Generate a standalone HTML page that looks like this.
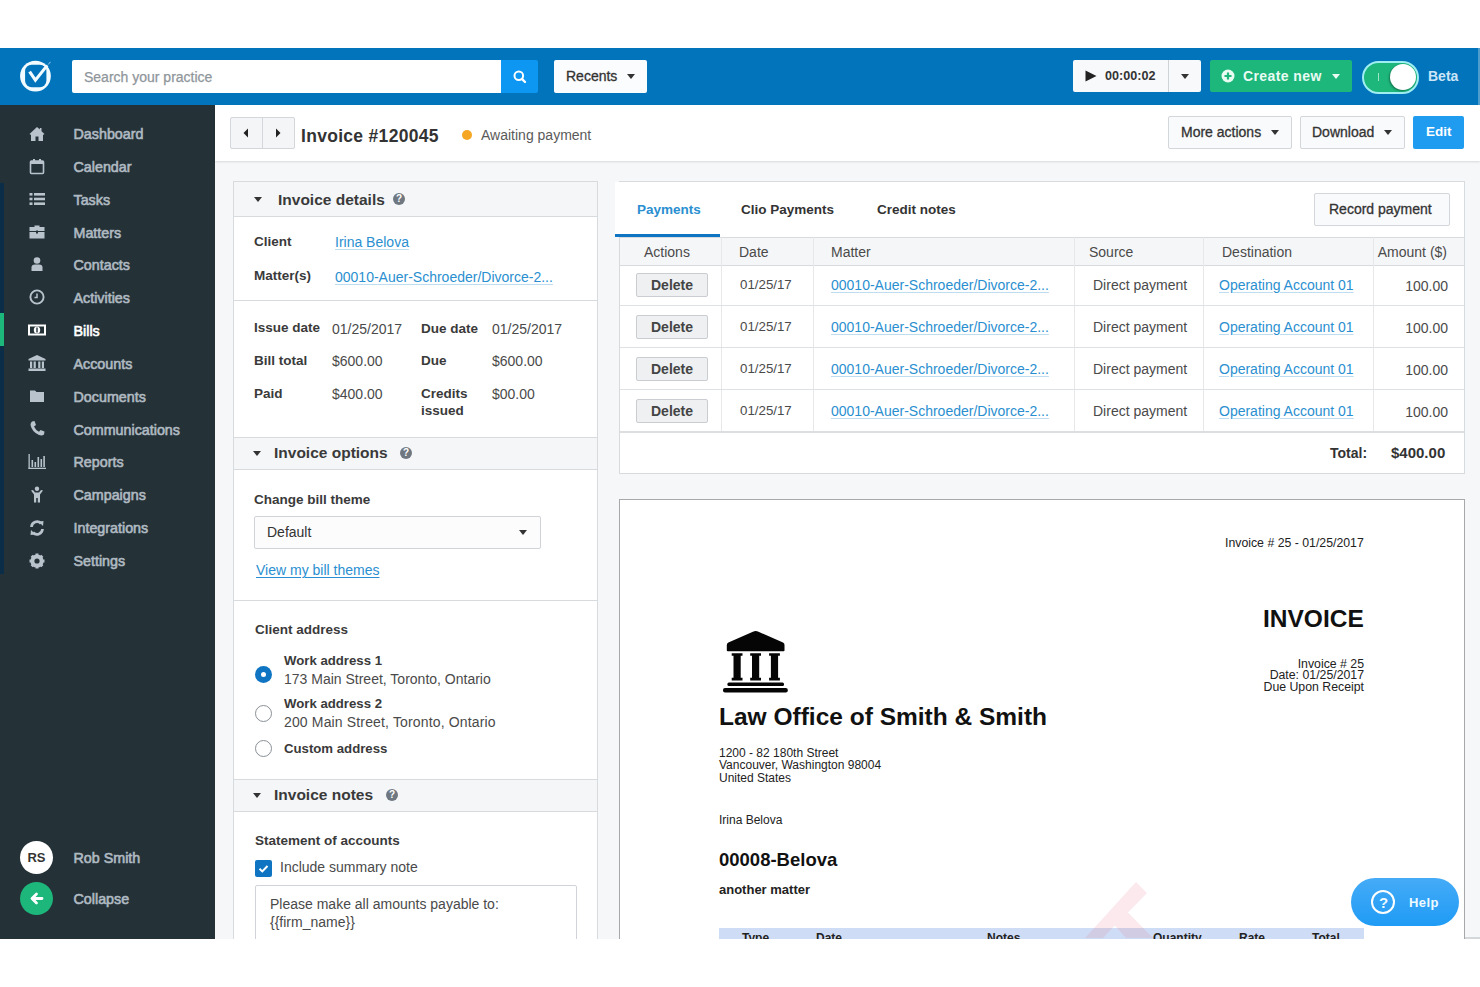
<!DOCTYPE html>
<html><head><meta charset="utf-8">
<style>
*{box-sizing:border-box;margin:0;padding:0}
html,body{width:1480px;height:987px;overflow:hidden;background:#fff;font-family:"Liberation Sans",Arial,sans-serif;color:#333}
.a{position:absolute}
.t{position:absolute;white-space:nowrap;line-height:16px}
.nav{position:absolute;left:73.5px;font-size:14.3px;color:#b0bac2;font-weight:400;white-space:nowrap;line-height:16px;-webkit-text-stroke:0.6px #b0bac2}
.si{position:absolute;left:28px}
.btn{position:absolute;background:#f9fafb;border:1px solid #d3d6da;border-radius:2px}
.caret{position:absolute;width:0;height:0;border-left:4px solid transparent;border-right:4px solid transparent;border-top:5px solid #333}
.lbl{position:absolute;font-size:13.5px;font-weight:700;color:#3a3a3a;white-space:nowrap;line-height:16px}
.val{position:absolute;font-size:14px;color:#4a4a4a;white-space:nowrap;line-height:16px}
.lnk{color:#2a8fd0;text-decoration:underline;text-decoration-color:rgba(42,143,208,.3);text-underline-offset:2px}
.line{position:absolute;background:#d8dbde}
.ph{position:absolute;left:234px;width:363px;background:#f4f6f8;border-top:1px solid #d8dbde;border-bottom:1px solid #d8dbde}
.phc{position:absolute;width:0;height:0;border-left:4.5px solid transparent;border-right:4.5px solid transparent;border-top:5px solid #333}
.q{position:absolute;width:12px;height:12px;border-radius:50%;background:#6f7880;color:#fff;font-size:10px;font-weight:700;text-align:center;line-height:12px}
.radio{position:absolute;left:255px;width:17px;height:17px;border-radius:50%;border:1.5px solid #8a9096;background:#fff}
.del{position:absolute;left:636px;width:72px;height:24px;background:#eef0f2;border:1px solid #c9cdd1;border-radius:2px;font-size:14px;font-weight:700;color:#444;text-align:center;line-height:22px}
.cell{position:absolute;font-size:14px;color:#4a4a4a;white-space:nowrap;line-height:16px}
.cell.lnk{color:#2a8fd0;text-decoration:underline;text-decoration-color:rgba(42,143,208,.3);text-underline-offset:2px}
.inv{position:absolute;white-space:nowrap;color:#111;font-family:"Liberation Sans",Arial,sans-serif}
</style></head><body>
<!-- app background -->
<div class="a" style="left:0;top:48px;width:1480px;height:891px;background:#f6f7f9"></div>

<!-- ===== HEADER ===== -->
<div class="a" style="left:0;top:48px;width:1478px;height:57px;background:#0174bb"></div>
<div class="a" style="left:1478px;top:48px;width:2px;height:57px;background:#4f9ccf"></div>
<svg class="a" style="left:20px;top:60px" width="32" height="32" viewBox="0 0 32 32">
  <circle cx="15.45" cy="16.06" r="15.4" fill="#f2fbff"/>
  <rect x="5.1" y="4.7" width="21.3" height="22.5" rx="6.5" fill="#0174bb"/>
  <path d="M9.6 11.6 L15.4 20.2 L27.2 5.4" fill="none" stroke="#f2fbff" stroke-width="3.1"/>
  <path d="M26.5 6.3 L30.2 1.6 L30.6 2.4 Z" fill="#f2fbff" opacity="0.7"/>
</svg>
<div class="a" style="left:72px;top:60px;width:429px;height:33px;background:#fff;border-radius:2px 0 0 2px"></div>
<div class="t" style="left:84px;top:68.5px;font-size:14px;color:#8f969c;-webkit-text-stroke:0.25px #8f969c">Search your practice</div>
<div class="a" style="left:501px;top:60px;width:37px;height:33px;background:#0d97f3;border-radius:0 2px 2px 0"></div>
<svg class="a" style="left:512px;top:69px" width="16" height="16" viewBox="0 0 16 16">
  <circle cx="6.8" cy="6.8" r="4.3" fill="none" stroke="#fff" stroke-width="2"/>
  <path d="M9.9 9.9 L13 13" stroke="#fff" stroke-width="2.4" stroke-linecap="round"/>
</svg>
<div class="a" style="left:554px;top:60px;width:93px;height:33px;background:#fbfcfd;border-radius:2px"></div>
<div class="t" style="left:566px;top:68px;font-size:14px;color:#333;font-weight:400;-webkit-text-stroke:0.3px #333">Recents</div>
<div class="caret" style="left:627px;top:74px"></div>

<div class="a" style="left:1073px;top:60px;width:128px;height:32px;background:#f8f9fa;border-radius:2px"></div>
<div class="a" style="left:1168px;top:60px;width:1px;height:32px;background:#cfd3d6"></div>
<svg class="a" style="left:1085px;top:70px" width="12" height="12" viewBox="0 0 12 12"><path d="M0.5 0.5 L11.5 6 L0.5 11.5 Z" fill="#222"/></svg>
<div class="t" style="left:1105px;top:68px;font-size:12.6px;font-weight:700;color:#333">00:00:02</div>
<div class="caret" style="left:1181px;top:74px"></div>

<div class="a" style="left:1210px;top:60px;width:142px;height:32px;background:#1db67b;border-radius:2px"></div>
<svg class="a" style="left:1221px;top:69px" width="14" height="14" viewBox="0 0 14 14">
  <circle cx="7" cy="7" r="6.5" fill="#e9fbf2"/>
  <path d="M7 3.5 V10.5 M3.5 7 H10.5" stroke="#1db67b" stroke-width="2.2"/>
</svg>
<div class="t" style="left:1243px;top:68px;font-size:14px;font-weight:700;color:#e9fbf2;letter-spacing:0.4px">Create new</div>
<div class="caret" style="left:1332px;top:74px;border-top-color:#e9fbf2"></div>

<div class="a" style="left:1362px;top:61px;width:57px;height:33px;border-radius:17px;background:#1db67b;border:2px solid #9eeef2"></div>
<div class="a" style="left:1378px;top:73px;width:1px;height:8px;background:#9ee8c4"></div>
<div class="a" style="left:1390px;top:64px;width:26px;height:26px;border-radius:50%;background:#fff;box-shadow:-1px 1px 2px rgba(0,0,0,.35)"></div>
<div class="t" style="left:1428px;top:68px;font-size:14px;font-weight:700;color:#cde6f7">Beta</div>

<!-- ===== SIDEBAR ===== -->
<div class="a" style="left:0;top:105px;width:215px;height:834px;background:#243238"></div>
<div class="a" style="left:0;top:183px;width:4px;height:391px;background:#0b2d48"></div>
<div class="a" style="left:0;top:313px;width:4px;height:33px;background:#1db67b"></div>

<div class="nav" style="top:126px">Dashboard</div>
<div class="nav" style="top:159px">Calendar</div>
<div class="nav" style="top:192px">Tasks</div>
<div class="nav" style="top:225px">Matters</div>
<div class="nav" style="top:257px">Contacts</div>
<div class="nav" style="top:290px">Activities</div>
<div class="nav" style="top:323px;color:#fff;-webkit-text-stroke:0.6px #fff">Bills</div>
<div class="nav" style="top:356px">Accounts</div>
<div class="nav" style="top:389px">Documents</div>
<div class="nav" style="top:422px">Communications</div>
<div class="nav" style="top:454px">Reports</div>
<div class="nav" style="top:487px">Campaigns</div>
<div class="nav" style="top:520px">Integrations</div>
<div class="nav" style="top:553px">Settings</div>

<!-- sidebar icons -->
<svg class="a" style="left:28px;top:125px" width="18" height="18" viewBox="0 0 18 18" fill="#b9c3cb">
  <path d="M9 2 L1.5 9 L3 10 L3 16 L7.5 16 L7.5 11.5 L10.5 11.5 L10.5 16 L15 16 L15 10 L16.5 9 L13.5 6.2 L13.5 3 L11.8 3 L11.8 4.6 Z"/>
</svg>
<svg class="a" style="left:28px;top:157px" width="18" height="18" viewBox="0 0 18 18">
  <rect x="2.5" y="4" width="13" height="12.5" rx="1" fill="none" stroke="#b9c3cb" stroke-width="1.6"/>
  <rect x="2.5" y="4" width="13" height="3" fill="#b9c3cb"/>
  <rect x="5" y="2" width="2" height="3" fill="#b9c3cb"/><rect x="11" y="2" width="2" height="3" fill="#b9c3cb"/>
</svg>
<svg class="a" style="left:28px;top:191px" width="18" height="16" viewBox="0 0 18 16" fill="#b9c3cb">
  <rect x="1.5" y="2" width="3" height="2.6"/><rect x="6" y="2" width="11" height="2.6"/>
  <rect x="1.5" y="6.7" width="3" height="2.6"/><rect x="6" y="6.7" width="11" height="2.6"/>
  <rect x="1.5" y="11.4" width="3" height="2.6"/><rect x="6" y="11.4" width="11" height="2.6"/>
</svg>
<svg class="a" style="left:28px;top:224px" width="18" height="16" viewBox="0 0 18 16" fill="#b9c3cb">
  <path d="M6.5 3 V1.5 H11.5 V3 H16.5 V7 H1.5 V3 Z M7.8 2.7 H10.2 V3 H7.8Z"/>
  <rect x="1.5" y="8" width="15" height="6.5"/><rect x="8" y="6.5" width="2" height="3" fill="#243238"/>
</svg>
<svg class="a" style="left:28px;top:256px" width="18" height="16" viewBox="0 0 18 16" fill="#b9c3cb">
  <circle cx="9" cy="4.5" r="3.3"/><path d="M3.5 15 V11.5 Q3.5 8.5 7 8.5 H11 Q14.5 8.5 14.5 11.5 V15 Z"/>
</svg>
<svg class="a" style="left:28px;top:289px" width="18" height="16" viewBox="0 0 18 16">
  <circle cx="9" cy="8" r="6.6" fill="none" stroke="#b9c3cb" stroke-width="1.9"/>
  <path d="M9 4.5 V8.5 H6.5" fill="none" stroke="#b9c3cb" stroke-width="1.5"/>
</svg>
<svg class="a" style="left:27px;top:322px" width="20" height="16" viewBox="0 0 20 16">
  <rect x="1" y="2.5" width="18" height="11" fill="#fff"/>
  <rect x="3" y="4.5" width="14" height="7" fill="#243238"/>
  <ellipse cx="10" cy="8" rx="3.2" ry="3.6" fill="#fff"/>
  <rect x="9.3" y="5.5" width="1.4" height="5" fill="#243238"/>
</svg>
<svg class="a" style="left:27px;top:354px" width="20" height="18" viewBox="0 0 20 18" fill="#b9c3cb">
  <path d="M10 1 L18.5 5 V6.5 H1.5 V5 Z"/>
  <rect x="3" y="7.5" width="2.2" height="6.5"/><rect x="6.6" y="7.5" width="2.2" height="6.5"/><rect x="11.2" y="7.5" width="2.2" height="6.5"/><rect x="14.8" y="7.5" width="2.2" height="6.5"/>
  <rect x="1.5" y="14.5" width="17" height="2.5"/>
</svg>
<svg class="a" style="left:28px;top:388px" width="18" height="16" viewBox="0 0 18 16" fill="#b9c3cb">
  <path d="M2 2.5 H7 L8.5 4 H16 V14 H2 Z"/>
</svg>
<svg class="a" style="left:28px;top:420px" width="18" height="17" viewBox="0 0 18 17" fill="#b9c3cb">
  <path d="M4 1.5 L6.5 1 L8 5 L6 6.5 Q7.5 10 11 11.8 L12.5 10 L16.5 11.5 L16 14.5 Q14 16 11 15 Q4 12 2.5 5 Q2.5 2.5 4 1.5 Z"/>
</svg>
<svg class="a" style="left:27px;top:453px" width="20" height="17" viewBox="0 0 20 17" fill="#b9c3cb">
  <rect x="1.5" y="1" width="1.3" height="15"/><rect x="1.5" y="14.7" width="17.5" height="1.3"/>
  <rect x="4.5" y="7" width="1.6" height="7"/><rect x="7.5" y="9" width="1.6" height="5"/><rect x="10.5" y="4" width="1.6" height="10"/><rect x="13.5" y="6" width="1.6" height="8"/><rect x="16.3" y="3" width="1.6" height="11"/>
</svg>
<svg class="a" style="left:28px;top:486px" width="18" height="18" viewBox="0 0 18 18" fill="#b9c3cb">
  <circle cx="9" cy="2.8" r="2.2"/><path d="M3 4.5 L5 4 L7 6.5 H11 L13 4 L15 4.5 L12 8.5 V16.5 H9.8 V12 H8.2 V16.5 H6 V8.5 Z"/>
</svg>
<svg class="a" style="left:28px;top:519px" width="18" height="18" viewBox="0 0 18 18">
  <path d="M3.5 8 A5.5 5.5 0 0 1 13 4.5" fill="none" stroke="#b9c3cb" stroke-width="2.7"/>
  <path d="M14.5 10 A5.5 5.5 0 0 1 5 13.5" fill="none" stroke="#b9c3cb" stroke-width="2.7"/>
  <path d="M10.5 2.5 L15.5 2 L15 7 Z" fill="#b9c3cb"/><path d="M7.5 15.5 L2.5 16 L3 11 Z" fill="#b9c3cb"/>
</svg>
<svg class="a" style="left:28px;top:552px" width="18" height="18" viewBox="0 0 18 18">
  <circle cx="9" cy="9" r="4.6" fill="none" stroke="#b9c3cb" stroke-width="4"/>
  <g stroke="#b9c3cb" stroke-width="3"><path d="M9 1.5 V4"/><path d="M9 14 V16.5"/><path d="M1.5 9 H4"/><path d="M14 9 H16.5"/><path d="M3.7 3.7 L5.5 5.5"/><path d="M12.5 12.5 L14.3 14.3"/><path d="M3.7 14.3 L5.5 12.5"/><path d="M12.5 5.5 L14.3 3.7"/></g>
</svg>

<div class="a" style="left:20px;top:841px;width:33px;height:33px;border-radius:50%;background:#fff"></div>
<div class="t" style="left:20px;top:850px;width:33px;text-align:center;font-size:13px;font-weight:700;color:#333">RS</div>
<div class="nav" style="top:850px">Rob Smith</div>
<div class="a" style="left:20px;top:882px;width:33px;height:33px;border-radius:50%;background:#1db67b"></div>
<svg class="a" style="left:28px;top:890px" width="17" height="17" viewBox="0 0 17 17">
  <path d="M14 8.5 H4.5 M8.5 4 L4 8.5 L8.5 13" fill="none" stroke="#fff" stroke-width="2.8" stroke-linecap="round" stroke-linejoin="round"/>
</svg>
<div class="nav" style="top:891px">Collapse</div>

<!-- ===== TITLE BAR ===== -->
<div class="a" style="left:215px;top:105px;width:1265px;height:56px;background:#fff;box-shadow:0 1px 2px rgba(0,0,0,.12)"></div>
<div class="btn" style="left:230px;top:117px;width:65px;height:32px;background:#f4f5f6"></div>
<div class="a" style="left:262px;top:117px;width:1px;height:32px;background:#d3d6da"></div>
<svg class="a" style="left:242px;top:128px" width="8" height="10" viewBox="0 0 8 10"><path d="M6 0.5 L1.5 5 L6 9.5Z" fill="#222"/></svg>
<svg class="a" style="left:274px;top:128px" width="8" height="10" viewBox="0 0 8 10"><path d="M2 0.5 L6.5 5 L2 9.5Z" fill="#222"/></svg>
<div class="t" style="left:301px;top:127px;font-size:17.5px;font-weight:700;color:#333;letter-spacing:0.3px;line-height:18px">Invoice #120045</div>
<div class="a" style="left:461.5px;top:130.3px;width:10px;height:10px;border-radius:50%;background:#f5a623"></div>
<div class="t" style="left:481px;top:127px;font-size:14px;color:#5a5a5a">Awaiting payment</div>

<div class="btn" style="left:1168px;top:116px;width:124px;height:33px"></div>
<div class="t" style="left:1181px;top:124px;font-size:14px;color:#333;-webkit-text-stroke:0.3px #333">More actions</div>
<div class="caret" style="left:1271px;top:130px"></div>
<div class="btn" style="left:1300px;top:116px;width:105px;height:33px"></div>
<div class="t" style="left:1312px;top:124px;font-size:14px;color:#333;-webkit-text-stroke:0.3px #333">Download</div>
<div class="caret" style="left:1384px;top:130px"></div>
<div class="a" style="left:1413px;top:116px;width:51px;height:33px;background:#1f9cf0;border-radius:2px"></div>
<div class="t" style="left:1426px;top:124px;font-size:13.5px;font-weight:700;color:#fff">Edit</div>


<!-- ===== LEFT PANEL ===== -->
<div class="a" style="left:233px;top:181px;width:365px;height:770px;background:#fff;border:1px solid #d8dbde"></div>
<!-- invoice details header -->
<div class="ph" style="top:182px;height:35px;border-top:none"></div>
<div class="phc" style="left:254px;top:197px"></div>
<div class="t" style="left:278px;top:191px;font-size:15.5px;font-weight:700;color:#3a3a3a;line-height:17px">Invoice details</div>
<div class="q" style="left:393px;top:193px">?</div>
<div class="lbl" style="left:254px;top:234px">Client</div>
<div class="val lnk" style="left:335px;top:234px">Irina Belova</div>
<div class="lbl" style="left:254px;top:268px">Matter(s)</div>
<div class="val lnk" style="left:335px;top:269px">00010-Auer-Schroeder/Divorce-2...</div>
<div class="line" style="left:234px;top:300px;width:363px;height:1px"></div>
<div class="lbl" style="left:254px;top:320px">Issue date</div>
<div class="val" style="left:332px;top:321px">01/25/2017</div>
<div class="lbl" style="left:421px;top:321px">Due date</div>
<div class="val" style="left:492px;top:321px">01/25/2017</div>
<div class="lbl" style="left:254px;top:353px">Bill total</div>
<div class="val" style="left:332px;top:353px">$600.00</div>
<div class="lbl" style="left:421px;top:353px">Due</div>
<div class="val" style="left:492px;top:353px">$600.00</div>
<div class="lbl" style="left:254px;top:386px">Paid</div>
<div class="val" style="left:332px;top:386px">$400.00</div>
<div class="lbl" style="left:421px;top:386px">Credits</div>
<div class="lbl" style="left:421px;top:403px">issued</div>
<div class="val" style="left:492px;top:386px">$00.00</div>

<!-- invoice options -->
<div class="ph" style="top:437px;height:33px"></div>
<div class="phc" style="left:253px;top:451px"></div>
<div class="t" style="left:274px;top:444px;font-size:15.5px;font-weight:700;color:#3a3a3a;line-height:17px">Invoice options</div>
<div class="q" style="left:400px;top:447px">?</div>
<div class="lbl" style="left:254px;top:492px">Change bill theme</div>
<div class="a" style="left:254px;top:516px;width:287px;height:33px;background:#fcfcfd;border:1px solid #d0d4d8;border-radius:2px"></div>
<div class="val" style="left:267px;top:524px;color:#333">Default</div>
<div class="caret" style="left:519px;top:530px"></div>
<div class="val lnk" style="left:256px;top:562px;text-decoration:underline;text-decoration-thickness:1px;text-underline-offset:2px">View my bill themes</div>
<div class="line" style="left:234px;top:600px;width:363px;height:1px"></div>
<div class="lbl" style="left:255px;top:622px">Client address</div>
<div class="radio" style="top:666px;border:none;background:#0f75c3"></div>
<div class="a" style="left:261px;top:672px;width:5px;height:5px;border-radius:50%;background:#fff"></div>
<div class="lbl" style="left:284px;top:653px;font-size:13.2px">Work address 1</div>
<div class="val" style="left:284px;top:671px">173 Main Street, Toronto, Ontario</div>
<div class="radio" style="top:705px"></div>
<div class="lbl" style="left:284px;top:696px;font-size:13.2px">Work address 2</div>
<div class="val" style="left:284px;top:714px;letter-spacing:0.15px">200 Main Street, Toronto, Ontario</div>
<div class="radio" style="top:740px"></div>
<div class="lbl" style="left:284px;top:741px;font-size:13.2px">Custom address</div>

<!-- invoice notes -->
<div class="ph" style="top:779px;height:33px"></div>
<div class="phc" style="left:253px;top:793px"></div>
<div class="t" style="left:274px;top:786px;font-size:15.5px;font-weight:700;color:#3a3a3a;line-height:17px">Invoice notes</div>
<div class="q" style="left:386px;top:789px">?</div>
<div class="lbl" style="left:255px;top:833px">Statement of accounts</div>
<div class="a" style="left:255px;top:860px;width:17px;height:17px;border-radius:2px;background:#0f75c3"></div>
<svg class="a" style="left:255px;top:860px" width="17" height="17" viewBox="0 0 17 17"><path d="M4.5 8.8 L7.3 11.4 L12.5 6" fill="none" stroke="#fff" stroke-width="2"/></svg>
<div class="val" style="left:280px;top:859px">Include summary note</div>
<div class="a" style="left:255px;top:885px;width:322px;height:80px;background:#fff;border:1px solid #d0d4d8;border-radius:2px"></div>
<div class="val" style="left:270px;top:896px">Please make all amounts payable to:</div>
<div class="val" style="left:270px;top:914px">{{firm_name}}</div>

<!-- ===== PAYMENTS CARD ===== -->
<div class="a" style="left:619px;top:181px;width:846px;height:293px;background:#fff;border:1px solid #d8dbde"></div>
<div class="a" style="left:615px;top:182px;width:20px;height:55px;background:#fff"></div>
<div class="t" style="left:637px;top:202px;font-size:13.5px;font-weight:700;color:#2a8fd0">Payments</div>
<div class="t" style="left:741px;top:202px;font-size:13.5px;font-weight:700;color:#333">Clio Payments</div>
<div class="t" style="left:877px;top:202px;font-size:13.5px;font-weight:700;color:#333">Credit notes</div>
<div class="a" style="left:615px;top:234px;width:105px;height:3px;background:#0f75c3"></div>
<div class="btn" style="left:1314px;top:193px;width:136px;height:33px"></div>
<div class="t" style="left:1329px;top:201px;font-size:14px;color:#333;-webkit-text-stroke:0.3px #333">Record payment</div>
<div class="a" style="left:620px;top:237px;width:844px;height:29px;background:#f5f6f8;border-top:1px solid #d8dbde;border-bottom:1px solid #d8dbde"></div>
<div class="t" style="left:644px;top:244px;font-size:14px;color:#4a4a4a">Actions</div>
<div class="t" style="left:739px;top:244px;font-size:14px;color:#4a4a4a">Date</div>
<div class="t" style="left:831px;top:244px;font-size:14px;color:#4a4a4a">Matter</div>
<div class="t" style="left:1089px;top:244px;font-size:14px;color:#4a4a4a">Source</div>
<div class="t" style="left:1222px;top:244px;font-size:14px;color:#4a4a4a">Destination</div>
<div class="t" style="left:1373px;width:74px;text-align:right;top:244px;font-size:14px;color:#4a4a4a">Amount ($)</div>
<div class="line" style="left:721px;top:237px;width:1px;height:194px;background:#e6e8ea"></div>
<div class="line" style="left:813px;top:237px;width:1px;height:194px;background:#e6e8ea"></div>
<div class="line" style="left:1074px;top:237px;width:1px;height:194px;background:#e6e8ea"></div>
<div class="line" style="left:1203px;top:237px;width:1px;height:194px;background:#e6e8ea"></div>
<div class="line" style="left:1373px;top:237px;width:1px;height:194px;background:#e6e8ea"></div>
<div class="del" style="top:273px">Delete</div>
<div class="cell" style="font-size:13.3px;left:740px;top:277px">01/25/17</div>
<div class="cell lnk" style="left:831px;top:277px">00010-Auer-Schroeder/Divorce-2...</div>
<div class="cell" style="left:1093px;top:277px">Direct payment</div>
<div class="cell lnk" style="left:1219px;top:277px">Operating Account 01</div>
<div class="cell" style="left:1373px;width:75px;text-align:right;top:278px">100.00</div>
<div class="line" style="left:620px;top:305px;width:844px;height:1px;background:#dfe2e5"></div>
<div class="del" style="top:315px">Delete</div>
<div class="cell" style="font-size:13.3px;left:740px;top:319px">01/25/17</div>
<div class="cell lnk" style="left:831px;top:319px">00010-Auer-Schroeder/Divorce-2...</div>
<div class="cell" style="left:1093px;top:319px">Direct payment</div>
<div class="cell lnk" style="left:1219px;top:319px">Operating Account 01</div>
<div class="cell" style="left:1373px;width:75px;text-align:right;top:320px">100.00</div>
<div class="line" style="left:620px;top:347px;width:844px;height:1px;background:#dfe2e5"></div>
<div class="del" style="top:357px">Delete</div>
<div class="cell" style="font-size:13.3px;left:740px;top:361px">01/25/17</div>
<div class="cell lnk" style="left:831px;top:361px">00010-Auer-Schroeder/Divorce-2...</div>
<div class="cell" style="left:1093px;top:361px">Direct payment</div>
<div class="cell lnk" style="left:1219px;top:361px">Operating Account 01</div>
<div class="cell" style="left:1373px;width:75px;text-align:right;top:362px">100.00</div>
<div class="line" style="left:620px;top:389px;width:844px;height:1px;background:#dfe2e5"></div>
<div class="del" style="top:399px">Delete</div>
<div class="cell" style="font-size:13.3px;left:740px;top:403px">01/25/17</div>
<div class="cell lnk" style="left:831px;top:403px">00010-Auer-Schroeder/Divorce-2...</div>
<div class="cell" style="left:1093px;top:403px">Direct payment</div>
<div class="cell lnk" style="left:1219px;top:403px">Operating Account 01</div>
<div class="cell" style="left:1373px;width:75px;text-align:right;top:404px">100.00</div>
<div class="line" style="left:620px;top:431px;width:844px;height:2px;background:#dcdfe2"></div>
<div class="t" style="left:1330px;top:445px;font-size:14px;font-weight:700;color:#333">Total:</div>
<div class="t" style="left:1391px;top:445px;font-size:15px;font-weight:700;color:#333">$400.00</div>

<!-- ===== INVOICE PREVIEW ===== -->
<div class="a" style="left:619px;top:499px;width:846px;height:460px;background:#fff;border:1px solid #a6a8aa"></div>
<div class="inv" style="left:1225px;top:536px;font-size:12.3px;line-height:14px;color:#222">Invoice # 25 - 01/25/2017</div>
<div class="inv" style="left:1263px;top:605px;font-size:24.5px;font-weight:700;line-height:28px">INVOICE</div>
<div class="inv" style="left:1179px;width:185px;text-align:right;top:658.5px;font-size:12.3px;line-height:11.6px;color:#222">Invoice # 25<br>Date: 01/25/2017<br>Due Upon Receipt</div>
<svg class="a" style="left:723px;top:630px" width="66" height="64" viewBox="0 0 66 64" fill="#050505">
  <path d="M32.7 1 Q34 1 35.5 1.8 L60 12.5 Q61.5 13.3 61.5 15 V20.5 Q61.5 21.3 60.5 21.3 H4.8 Q3.8 21.3 3.8 20.5 V15 Q3.8 13.3 5.4 12.5 L29.9 1.8 Q31.4 1 32.7 1 Z"/>
  <path d="M8.7 23.3 H19.5 V25.8 H17.7 V47.8 H19.5 V50.4 H8.7 V47.8 H10.5 V25.8 H8.7 Z"/>
  <path d="M27.2 23.3 H38.0 V25.8 H36.2 V47.8 H38.0 V50.4 H27.2 V47.8 H29.0 V25.8 H27.2 Z"/>
  <path d="M46.1 23.3 H56.9 V25.8 H55.1 V47.8 H56.9 V50.4 H46.1 V47.8 H47.9 V25.8 H46.1 Z"/>
  <rect x="4.4" y="52.6" width="56.6" height="3.4" rx="1.5"/><rect x="0" y="58" width="64.8" height="4.4" rx="2"/>
</svg>
<div class="inv" style="left:719px;top:703px;font-size:24.5px;font-weight:700;line-height:28px">Law Office of Smith &amp; Smith</div>
<div class="inv" style="left:719px;top:747px;font-size:12px;line-height:12.3px;color:#222">1200 - 82 180th Street<br>Vancouver, Washington 98004<br>United States</div>
<div class="inv" style="left:719px;top:814px;font-size:12px;line-height:13px;color:#222">Irina Belova</div>
<div class="inv" style="left:719px;top:849px;font-size:18.5px;font-weight:700;line-height:22px;color:#111">00008-Belova</div>
<div class="inv" style="left:719px;top:883px;font-size:13px;font-weight:700;line-height:14px;color:#222">another matter</div>
<div class="a" style="left:719px;top:928px;width:645px;height:20px;background:#cfdcf5"></div>
<div class="inv" style="left:742px;top:931px;font-size:12px;font-weight:700;line-height:14px;color:#222">Type</div>
<div class="inv" style="left:816px;top:931px;font-size:12px;font-weight:700;line-height:14px;color:#222">Date</div>
<div class="inv" style="left:987px;top:931px;font-size:12px;font-weight:700;line-height:14px;color:#222">Notes</div>
<div class="inv" style="left:1153px;top:931px;font-size:12px;font-weight:700;line-height:14px;color:#222">Quantity</div>
<div class="inv" style="left:1239px;top:931px;font-size:12px;font-weight:700;line-height:14px;color:#222">Rate</div>
<div class="inv" style="left:1312px;top:931px;font-size:12px;font-weight:700;line-height:14px;color:#222">Total</div>
<!-- watermark -->
<svg class="a" style="left:1080px;top:878px" width="80" height="62" viewBox="0 0 80 62">
  <path d="M56 4 L67 15 L48 34.5 L73 60 L46 60 L34.8 47.5 L23 60 L5 60 Z" fill="rgba(228,105,135,0.15)"/>
</svg>
<!-- help -->
<div class="a" style="left:1351px;top:878px;width:108px;height:48px;border-radius:24px;background:linear-gradient(#45abf7,#1f9bf5)"></div>
<div class="a" style="left:1371px;top:890px;width:24px;height:24px;border-radius:50%;border:2px solid #fff"></div>
<div class="t" style="left:1371px;top:895px;width:25px;text-align:center;font-size:15px;font-weight:700;color:#eefaff">?</div>
<div class="t" style="left:1409px;top:894.5px;font-size:13px;font-weight:700;color:#eefaff;letter-spacing:0.4px">Help</div>

<div class="a" style="left:1465px;top:937px;width:15px;height:2px;background:#d5d8db"></div>
<!-- bottom cover -->
<div class="a" style="left:0;top:939px;width:1480px;height:48px;background:#fff"></div>

</body></html>
